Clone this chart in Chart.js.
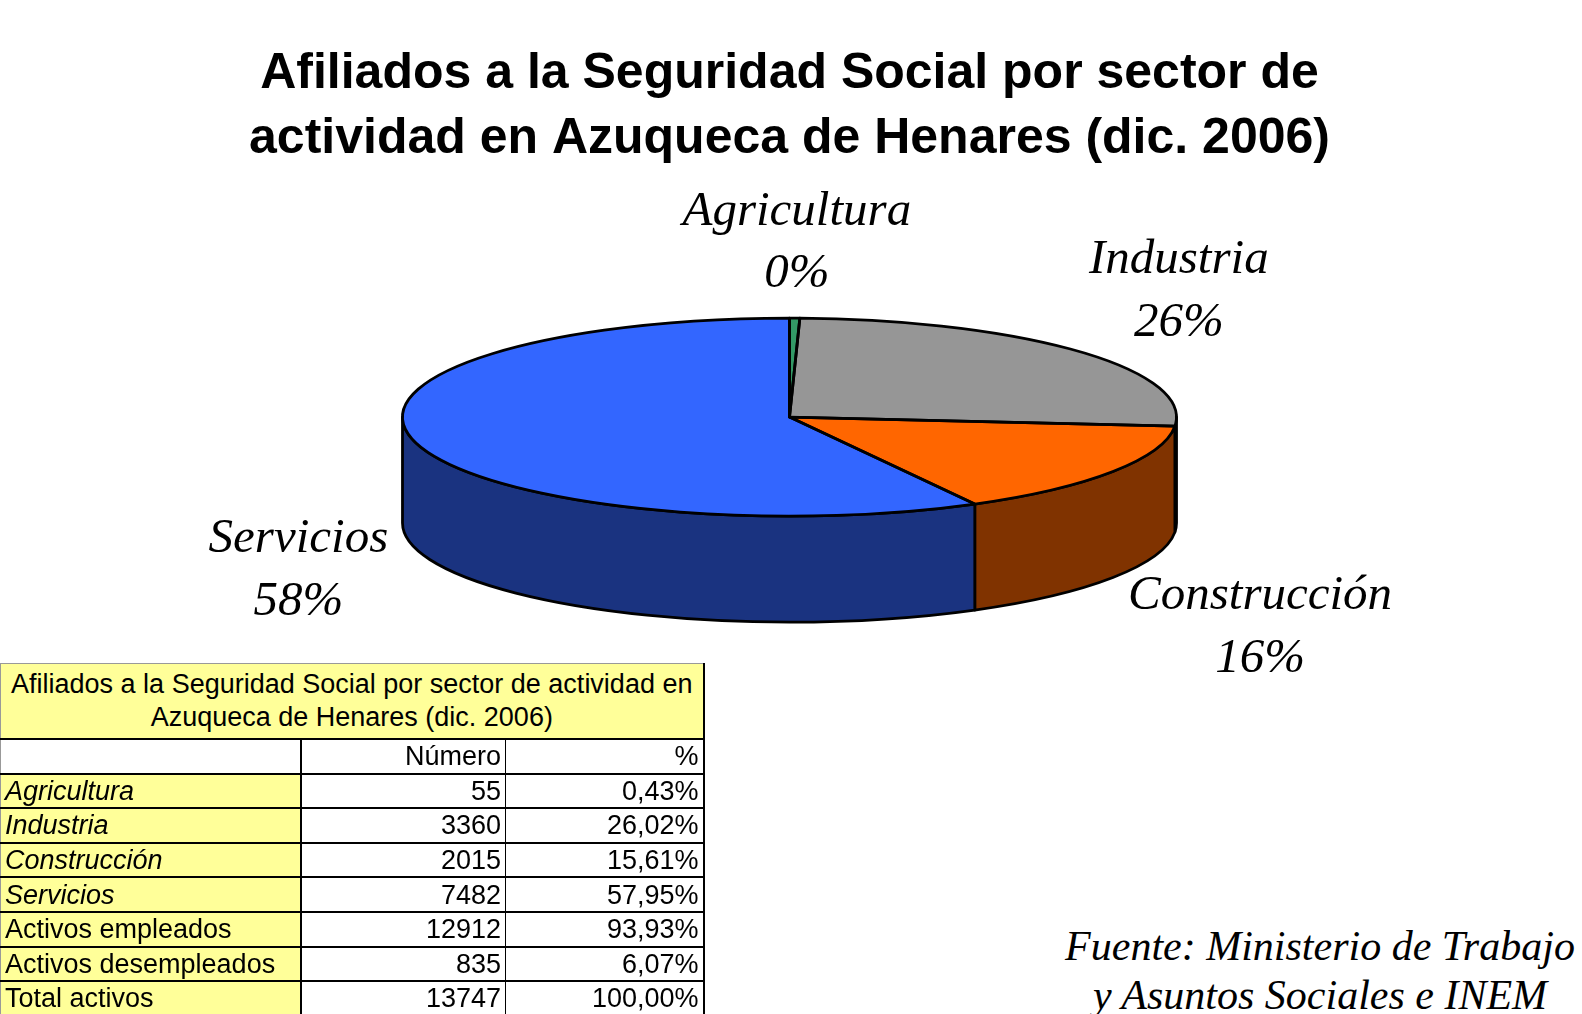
<!DOCTYPE html>
<html>
<head>
<meta charset="utf-8">
<script src="https://cdn.jsdelivr.net/npm/chart.js@4.4.0/dist/chart.umd.min.js"></script>
<style>
html, body { margin: 0; padding: 0; background: #fff; overflow: hidden; }
#pagina { position: relative; width: 1582px; height: 1014px; overflow: hidden; }
#chartBox { position: absolute; left: 0; top: 0; width: 1582px; height: 700px; }
#tabla { position: absolute; left: 0; top: 663px; width: 703px; border-collapse: collapse; table-layout: fixed;
  font-family: Arial, "Liberation Sans", sans-serif; font-size: 27px; color: #000; }
#tabla td { border: 2px solid #000; height: 32.6px; padding: 0 4px; line-height: 30px; white-space: nowrap; overflow: hidden; background: #fff; }
#tabla td.cab { background: #ffff99; text-align: center; height: 74px; line-height: 33px; border-top: 1px solid #999; border-left: 1px solid #999; }
#tabla td.nom { background: #ffff99; text-align: left; border-left: 1px solid #999; }
#tabla td.num { text-align: right; border-right: 1px solid #000; }
#tabla td.pct { text-align: right; border-left: 1px solid #000; }
#tabla td.it { font-style: italic; }
#fuente { position: absolute; left: 1052px; top: 922px; width: 536px; text-align: center;
  font-family: "Liberation Serif", "Times New Roman", serif; font-style: italic; font-size: 42px; line-height: 48.5px; color: #000; white-space: nowrap; }
</style>
</head>
<body>
<div id="pagina">
<div id="chartBox"><canvas id="sectoresChart"></canvas></div>
<table id="tabla"><colgroup><col style="width:300px"><col style="width:205px"><col style="width:198px"></colgroup><tbody id="tablaCuerpo"></tbody></table>
<div id="fuente">Fuente: Ministerio de Trabajo<br>y Asuntos Sociales e INEM</div>
</div>
<script>
// datos
const tituloLineas = ['Afiliados a la Seguridad Social por sector de', 'actividad en Azuqueca de Henares (dic. 2006)'];
const sectores = ['Agricultura', 'Industria', 'Construcción', 'Servicios'];
const afiliados = [55, 3360, 2015, 7482];
const porcentajes = [0.43, 26.02, 15.61, 57.95];
const resumenEtiquetas = ['Activos empleados', 'Activos desempleados', 'Total activos'];
const resumenValores = [12912, 835, 13747];
const resumenPorcentajes = [93.93, 6.07, 100.00];

const coloresTapa = ['#339966', '#969696', '#ff6600', '#3366ff'];
const coloresLado = ['#1a4d33', '#4b4b4b', '#803300', '#1a3380'];

function fmtPct(v) {
    return v.toFixed(2).replace('.', ',') + '%';
}

// tabla
const cuerpo = document.getElementById('tablaCuerpo');
let html = '<tr><td class="cab" colspan="3">Afiliados a la Seguridad Social por sector de actividad en<br>Azuqueca de Henares (dic. 2006)</td></tr>';
html += '<tr><td style="border-left:1px solid #999"></td><td class="num">Número</td><td class="pct">%</td></tr>';
sectores.forEach(function (s, i) {
    html += '<tr><td class="nom it">' + s + '</td><td class="num">' + afiliados[i] + '</td><td class="pct">' + fmtPct(porcentajes[i]) + '</td></tr>';
});
resumenEtiquetas.forEach(function (s, i) {
    html += '<tr><td class="nom">' + s + '</td><td class="num">' + resumenValores[i] + '</td><td class="pct">' + fmtPct(resumenPorcentajes[i]) + '</td></tr>';
});
cuerpo.innerHTML = html;

function geom(chart, o) {
    const arc = chart.getDatasetMeta(0).data[0];
    return { cx: arc.x, cy: arc.y, r: arc.outerRadius, rx: o.rx, ry: o.ry };
}

// tarta 3D: paredes antes, tapa aplanada, contornos y etiquetas despues
const tarta3d = {
    id: 'tarta3d',
    beforeDatasetsDraw(chart, args, o) {
        const ctx = chart.ctx;
        const g = geom(chart, o);
        const arcs = chart.getDatasetMeta(0).data;
        ctx.save();
        ctx.lineWidth = o.lineWidth;
        ctx.strokeStyle = '#000';
        ctx.lineJoin = 'round';
        arcs.forEach(function (arc, i) {
            const s = Math.max(arc.startAngle, 0);
            const e = Math.min(arc.endAngle, Math.PI);
            if (e <= s) return;
            ctx.beginPath();
            ctx.ellipse(g.cx, g.cy, g.rx, g.ry, 0, s, e, false);
            ctx.ellipse(g.cx, g.cy + o.depth, g.rx, g.ry, 0, e, s, true);
            ctx.closePath();
            ctx.fillStyle = coloresLado[i];
            ctx.fill();
            ctx.stroke();
        });
        ctx.restore();
        ctx.save();
        ctx.translate(g.cx, g.cy);
        ctx.scale(g.rx / g.r, g.ry / g.r);
        ctx.translate(-g.cx, -g.cy);
    },
    afterDatasetsDraw(chart, args, o) {
        const ctx = chart.ctx;
        ctx.restore();
        const g = geom(chart, o);
        const arcs = chart.getDatasetMeta(0).data;
        ctx.save();
        ctx.lineWidth = o.lineWidth;
        ctx.strokeStyle = '#000';
        ctx.lineJoin = 'round';
        arcs.forEach(function (arc) {
            ctx.beginPath();
            ctx.moveTo(g.cx, g.cy);
            ctx.ellipse(g.cx, g.cy, g.rx, g.ry, 0, arc.startAngle, arc.endAngle, false);
            ctx.closePath();
            ctx.stroke();
        });

        ctx.font = 'italic ' + o.labelSize + 'px "Liberation Serif", "Times New Roman", serif';
        ctx.fillStyle = '#000';
        ctx.textAlign = 'center';
        ctx.textBaseline = 'middle';
        arcs.forEach(function (arc, i) {
            const m = (arc.startAngle + arc.endAngle) / 2;
            const c = Math.cos(m), s = Math.sin(m);
            const lines = [chart.data.labels[i], Math.round(porcentajes[i]) + '%'];
            const w = Math.max.apply(null, lines.map(function (t) { return ctx.measureText(t).width; }));
            const h = lines.length * o.labelLine;
            const gx = c < 0 ? o.gapXIzq : o.gapX;
            const gy = o.gapY + o.gapYx * Math.abs(c);
            const ax = g.cx + (g.rx + gx) * c;
            const ay = g.cy + (g.ry + gy) * s + (s > 0 ? o.depth : 0);
            const x = ax + c * w / 2;
            const y = ay + s * h / 2;
            lines.forEach(function (t, k) {
                ctx.fillText(t, x, y - h / 2 + o.labelLine * (k + 0.5));
            });
        });
        ctx.restore();
    }
};

document.addEventListener('DOMContentLoaded', function () {
    const ctx = document.getElementById('sectoresChart').getContext('2d');
    new Chart(ctx, {
        type: 'pie',
        data: {
            labels: sectores,
            datasets: [{
                data: afiliados,
                backgroundColor: coloresTapa,
                borderWidth: 0,
                clip: false
            }]
        },
        options: {
            responsive: true,
            maintainAspectRatio: false,
            animation: false,
            events: [],
            layout: {
                padding: { left: 0, right: 3, top: 0, bottom: 46 }
            },
            plugins: {
                legend: { display: false },
                tooltip: { enabled: false },
                title: {
                    display: true,
                    text: tituloLineas,
                    color: '#000',
                    font: { family: 'Arial, "Liberation Sans", sans-serif', size: 50, weight: 'bold', lineHeight: 1.312 },
                    padding: { top: 41, bottom: 8 }
                },
                tarta3d: {
                    rx: 387,
                    ry: 99,
                    depth: 106,
                    lineWidth: 2.8,
                    labelSize: 49,
                    labelLine: 62.6,
                    gapX: 44,
                    gapXIzq: 30,
                    gapY: 12,
                    gapYx: 20
                }
            }
        },
        plugins: [tarta3d]
    });
});
</script>
</body>
</html>
